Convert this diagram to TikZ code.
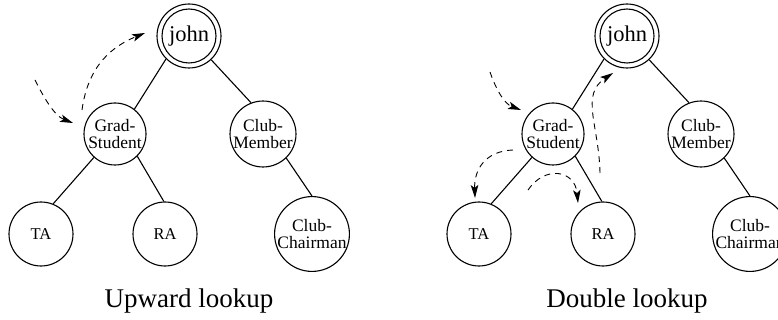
\documentclass[tikz,border=0pt]{standalone}
\usepackage{fontspec}
\setmainfont{Liberation Serif}
\usetikzlibrary{arrows.meta}

\begin{document}
\begin{tikzpicture}[x=1pt,y=-1pt,
  cls/.style={circle, draw, line width=1.1pt, inner sep=0pt, minimum size=62pt,
    font=\fontsize{17.5}{17}\selectfont, align=center},
  leaf/.style={cls, minimum size=64pt},
  small/.style={font=\fontsize{16.5}{17}\selectfont},
  root/.style={circle, draw, line width=1.1pt, inner sep=0pt, minimum size=64pt},
  rootin/.style={circle, draw, line width=1.1pt, inner sep=0pt, minimum size=54pt,
    font=\fontsize{22.5}{24}\selectfont},
  link/.style={line width=1.1pt},
  lookup/.style={line width=0.9pt, dash pattern=on 6pt off 5pt,
    -{Stealth[length=13pt,width=7.5pt,inset=3pt]}},
  caption/.style={font=\fontsize{27}{30}\selectfont, anchor=base},
  classtree/.pic={
    \node[root] (-john) at (0,0) {};
    \node[rootin] (-johnin) at (0,0) {john};
    \node[cls]  (-gs) at (-74,98)   {Grad-\\Student};
    \node[cls]  (-cm) at (74,98)    {Club-\\Member};
    \node[leaf, small] (-ta) at (-148,198) {TA};
    \node[leaf, small] (-ra) at (-24,198)  {RA};
    \node[leaf] (-cc) at (123,198)  {Club-\\Chairman};
    \draw[link] (-john.225) -- (-gs.52);
    \draw[link] (-john.-47) -- (-cm.111);
    \draw[link] (-gs.228)   -- (-ta.68);
    \draw[link] (-gs.-45)   -- (-ra.92);
    \draw[link] (-cm.-46)   -- (-cc.90);
  }]
\useasboundingbox (0,0) rectangle (778,320);

% the two class hierarchies
\pic (up) at (189,36) {classtree};
\pic (dbl) at (627,36) {classtree};

% captions
\node[caption] (upcap)  at (189,307) {Upward lookup};
\node[caption] (dblcap) at (627,307) {Double lookup};

% lookup paths, upward lookup
\coordinate (upIn)    at (35,80);
\coordinate (upInEnd) at (73,123);
\coordinate (upGo)    at (82,110);
\coordinate (upGoEnd) at (145,33);
\draw[lookup] (upIn) .. controls (45,100) and (55,116) .. (upInEnd);
\draw[lookup] (upGo) .. controls (88,65) and (113,46) .. (upGoEnd);

% lookup paths, double lookup
\coordinate (dIn)     at (490,72);
\coordinate (dInEnd)  at (521,110);
\coordinate (dTa)     at (513,150);
\coordinate (dTaEnd)  at (475,198);
\coordinate (dRa)     at (528,190);
\coordinate (dRaEnd)  at (578,203);
\coordinate (dUp)     at (600,173);
\coordinate (dUpEnd)  at (613,73);
\draw[lookup] (dIn) .. controls (497,92) and (505,104) .. (dInEnd);
\draw[lookup] (dTa) .. controls (485,151) and (474,170) .. (dTaEnd);
\draw[lookup] (dRa) .. controls (545,165) and (575,170) .. (dRaEnd);
\draw[lookup] (dUp) .. controls (599,125) and (580,95) .. (dUpEnd);
\end{tikzpicture}
\end{document}
